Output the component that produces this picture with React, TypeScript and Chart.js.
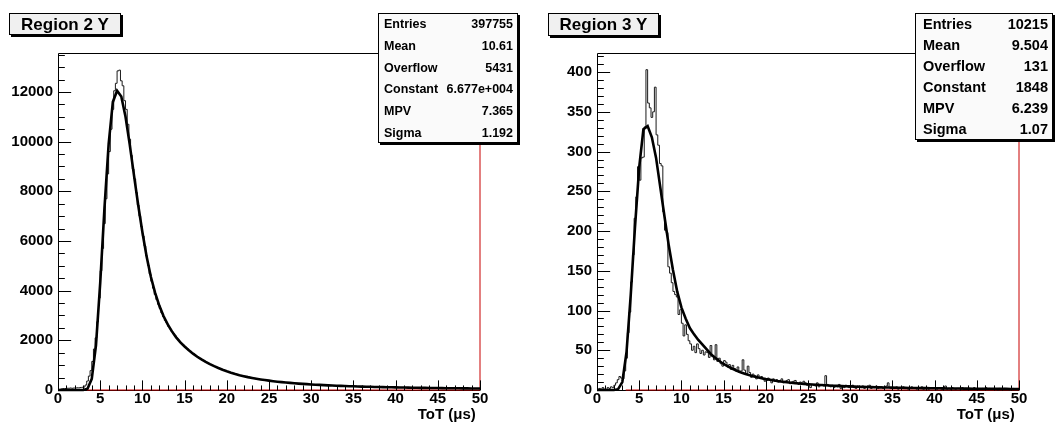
import React, { useEffect, useRef } from "react";
import { Chart, registerables } from "chart.js";

Chart.register(...registerables);

// ---------------- data ----------------
const BIN_MIN = 0;
const BIN_WIDTH = 0.2;
const X_MIN = 0;
const X_MAX = 50;
const FIT_STEP = 0.5;
const X_TICK_STEP = 5;
const X_MINOR_STEP = 1;
const X_TITLE = "ToT (μs) ";

// Region 2 Y : histogram bin contents (250 bins of 0.2 µs)
const region2Counts = [
  10, 30, 50, 60, 60, 70, 70, 80, 70, 80, 80, 90, 90, 100, 110, 120, 200, 360, 560, 780, 1150, 1650, 2100, 2750, 3700,
  4800, 5700, 6700, 7700, 8700, 9600, 10500, 11300, 12050, 12350, 12850, 12880, 12450, 12250, 11650, 11300, 10700, 10100, 9450, 8900, 8500, 7950, 7450, 7000, 6580,
  6200, 5800, 5400, 5020, 4680, 4380, 4100, 3850, 3640, 3450, 3280, 3100, 2950, 2800, 2700, 2560, 2460, 2360, 2270, 2180, 2090, 2010, 1930, 1850, 1800,
  1730, 1670, 1600, 1560, 1490, 1450, 1390, 1350, 1290, 1260, 1210, 1180, 1130, 1100, 1060, 1030, 990, 965, 930, 905, 870, 850, 815, 795, 765,
  745, 715, 700, 670, 655, 630, 618, 595, 583, 562, 550, 530, 520, 503, 494, 477, 468, 452, 445, 430, 423, 408, 402, 389, 384,
  372, 360, 355, 343, 340, 328, 326, 315, 312, 302, 300, 290, 288, 278, 276, 266, 265, 256, 254, 246, 245, 237, 236, 228, 227,
  225, 215, 216, 208, 209, 200, 202, 194, 195, 188, 189, 182, 181, 175, 177, 170, 171, 164, 166, 159, 161, 154, 156, 150, 151,
  145, 147, 140, 142, 136, 138, 132, 134, 128, 131, 125, 127, 121, 124, 118, 120, 115, 118, 112, 114, 109, 111, 106, 109, 103,
  106, 101, 104, 99, 101, 96, 99, 94, 96, 91, 93, 89, 91, 87, 88, 85, 86, 83, 84, 81, 82, 79, 80, 77, 78,
  75, 76, 73, 75, 71, 73, 70, 71, 68, 70, 67, 68, 65, 67, 64, 65, 62, 64, 61, 62, 60, 61, 59, 60, 58,
];

// Region 2 Y : Landau fit curve sampled every 0.5 µs from 0 to 50
const region2Fit = [
  0, 0, 0, 0, 0, 0, 2, 50, 450, 1800,
  4300, 7300, 9900, 11600, 12050, 11820, 11000, 9880, 8650, 7450,
  6350, 5380, 4560, 3920, 3400, 2980, 2640, 2360, 2120, 1920,
  1750, 1600, 1463, 1340, 1230, 1130, 1040, 960, 885, 815,
  752, 695, 643, 597, 556, 518, 485, 454, 426, 400,
  377, 355, 335, 317, 301, 286, 271, 258, 246, 235,
  224, 214, 205, 196, 188, 180, 173, 166, 160, 154,
  148, 142, 137, 132, 128, 123, 119, 115, 112, 108,
  105, 102, 99, 96, 92, 90, 87, 85, 82, 80,
  78, 75, 73, 71, 70, 68, 66, 64, 63, 61,
  60,
];

const region2Stats = [
  ["Entries", "397755"],
  ["Mean", "10.61"],
  ["Overflow", "5431"],
  ["Constant", "6.677e+004"],
  ["MPV", "7.365"],
  ["Sigma", "1.192"],
];
const region2YMax = 13570;
const region2YStep = 2000;
const region2YMinor = 500;
const region2RedX = [3.4, 50, 50];
const region2RedY = [0, 0, 13570];

// Region 3 Y : histogram bin contents (250 bins of 0.2 µs)
const region3Counts = [
  0, 2, 1, 3, 1, 0, 3, 2, 4, 3, 6, 9, 13, 17, 15, 14, 24, 40, 72, 98, 136, 170, 216, 243, 281,
  264, 292, 293, 331, 403, 361, 355, 343, 350, 381, 321, 308, 285, 282, 224, 201, 198, 155, 147, 135, 124, 120, 117, 95, 101,
  84, 68, 82, 70, 62, 58, 50, 55, 47, 58, 52, 46, 50, 44, 48, 47, 41, 56, 42, 38, 57, 36, 40, 33, 30,
  37, 35, 29, 32, 26, 31, 27, 24, 29, 22, 24, 38, 25, 20, 30, 22, 16, 20, 18, 14, 19, 15, 17, 14, 11,
  12, 15, 13, 9, 14, 11, 13, 10, 12, 14, 9, 11, 12, 13, 8, 10, 11, 12, 9, 7, 10, 8, 11, 9, 6,
  8, 3, 7, 6, 5, 9, 4, 6, 7, 5, 18, 7, 5, 4, 6, 3, 5, 4, 7, 2, 5, 3, 6, 4, 3,
  4, 6, 3, 2, 5, 4, 3, 5, 2, 4, 3, 6, 2, 4, 3, 5, 2, 3, 4, 2, 3, 5, 9, 3, 2,
  3, 2, 4, 1, 3, 2, 4, 2, 3, 1, 2, 4, 3, 2, 1, 3, 2, 4, 1, 2, 3, 1, 2, 3, 2,
  2, 1, 3, 2, 1, 2, 5, 1, 2, 1, 3, 2, 1, 2, 2, 1, 3, 1, 2, 1, 2, 1, 2, 3, 1,
  2, 1, 1, 2, 1, 3, 1, 2, 1, 1, 2, 1, 0, 2, 1, 1, 2, 1, 1, 0, 1, 2, 1, 1, 1,
];

// Region 3 Y : Landau fit curve sampled every 0.5 µs from 0 to 50
const region3Fit = [
  0, 0, 0, 0, 0, 1, 10, 48, 120, 205,
  280, 328, 332, 318, 292, 255, 218, 182, 151, 124,
  104, 90, 78, 70, 63, 57, 51, 45, 40.5, 36.4,
  32.7, 29.8, 27, 24.6, 22.4, 20.4, 18.9, 17.3, 16, 14.8,
  13.7, 12.8, 11.9, 11.1, 10.4, 9.8, 9.2, 8.7, 8.2, 7.7,
  7.3, 6.9, 6.6, 6.3, 6.0, 5.7, 5.4, 5.15, 4.9, 4.7,
  4.5, 4.3, 4.15, 3.95, 3.8, 3.65, 3.5, 3.35, 3.2, 3.1,
  3.0, 2.9, 2.8, 2.7, 2.6, 2.5, 2.45, 2.38, 2.3, 2.25,
  2.2, 2.12, 2.05, 1.98, 1.9, 1.85, 1.8, 1.75, 1.7, 1.66,
  1.62, 1.58, 1.55, 1.51, 1.48, 1.45, 1.4, 1.36, 1.32, 1.29,
  1.25,
];

const region3Stats = [
  ["Entries", "10215"],
  ["Mean", "9.504"],
  ["Overflow", "131"],
  ["Constant", "1848"],
  ["MPV", "6.239"],
  ["Sigma", "1.07"],
];
const region3YMax = 424;
const region3YStep = 50;
const region3YMinor = 10;
const region3RedX = [3.4, 50, 50];
const region3RedY = [0, 0, 424];

// ---------------- drawing ----------------
const FONT = '"Liberation Sans", Arial, Helvetica, sans-serif';
const CANVAS_W = 522;
const CANVAS_H = 425;

type PanelCfg = {
  title: string;
  counts: number[];
  fit: number[];
  stats: string[][];
  yMax: number;
  yStep: number;
  yMinor: number;
  redX: number[];
  redY: number[];
  titleBox: [number, number, number, number];
  titleFont: number;
  statsBox: [number, number, number, number];
  statsFont: number;
  statsInsetL: number;
  statsInsetR: number;
};

function drawPave(ctx: CanvasRenderingContext2D, x1: number, y1: number, x2: number, y2: number, fill: string) {
  ctx.fillStyle = "#000";
  ctx.fillRect(x1 + 2, y1 + 2, x2 - x1, y2 - y1);
  ctx.fillStyle = fill;
  ctx.fillRect(x1, y1, x2 - x1, y2 - y1);
  ctx.strokeStyle = "#000";
  ctx.lineWidth = 1;
  ctx.strokeRect(x1 + 0.5, y1 + 0.5, x2 - x1 - 1, y2 - y1 - 1);
}

function makeDecor(cfg: PanelCfg) {
  return {
    id: "rootDecor",
    beforeDatasetsDraw(chart: any) {
      const { ctx, chartArea: a } = chart;
      ctx.save();
      ctx.strokeStyle = "#000";
      ctx.lineWidth = 1;
      const B = Math.round(a.bottom) + 0.5;
      ctx.beginPath();
      ctx.moveTo(a.left, B);
      ctx.lineTo(a.right, B);
      ctx.stroke();
      ctx.restore();
    },
    afterDatasetsDraw(chart: any) {
      const { ctx, chartArea: a, scales } = chart;
      const xs = scales.x;
      const ys = scales.y;
      const L = Math.round(a.left) + 0.5;
      const T = Math.round(a.top) + 0.5;
      const B = Math.round(a.bottom) + 0.5;
      const R = Math.round(a.right) + 0.5;
      ctx.save();
      ctx.strokeStyle = "#000";
      ctx.lineWidth = 1;
      ctx.beginPath();
      ctx.moveTo(L, B);
      ctx.lineTo(L, T);
      ctx.lineTo(R, T);
      const xLen = 0.03 * (a.bottom - a.top);
      const yLen = 0.03 * (a.right - a.left);
      const xMaj = xs.ticks.map((t: any) => t.value);
      for (let i = 0; X_MIN + i * X_MINOR_STEP <= X_MAX + 1e-9; i++) {
        const v = X_MIN + i * X_MINOR_STEP;
        const isMaj = xMaj.some((m: number) => Math.abs(m - v) < 1e-6);
        const px = Math.round(xs.getPixelForValue(v)) + 0.5;
        ctx.moveTo(px, B);
        ctx.lineTo(px, B - (isMaj ? xLen : xLen / 2));
      }
      const yMaj = ys.ticks.map((t: any) => t.value);
      for (let i = 0; i * cfg.yMinor <= cfg.yMax + 1e-9; i++) {
        const v = i * cfg.yMinor;
        const isMaj = yMaj.some((m: number) => Math.abs(m - v) < 1e-6);
        const py = Math.round(ys.getPixelForValue(v)) + 0.5;
        ctx.moveTo(L, py);
        ctx.lineTo(L + (isMaj ? yLen : yLen / 2), py);
      }
      ctx.stroke();
      ctx.restore();
    },
    afterDraw(chart: any) {
      const ctx: CanvasRenderingContext2D = chart.ctx;
      ctx.save();
      const [tx1, ty1, tx2, ty2] = cfg.titleBox;
      drawPave(ctx, tx1, ty1, tx2, ty2, "#f0f0f0");
      ctx.fillStyle = "#000";
      ctx.font = `bold ${cfg.titleFont}px ${FONT}`;
      ctx.textAlign = "center";
      ctx.textBaseline = "middle";
      ctx.fillText(cfg.title, (tx1 + tx2) / 2, (ty1 + ty2) / 2 + 1);
      const [sx1, sy1, sx2, sy2] = cfg.statsBox;
      drawPave(ctx, sx1, sy1, sx2, sy2, "#fafafa");
      ctx.fillStyle = "#000";
      ctx.font = `bold ${cfg.statsFont}px ${FONT}`;
      const rowH = (sy2 - sy1) / cfg.stats.length;
      cfg.stats.forEach((row, i) => {
        const y = sy1 + (i + 0.5) * rowH + 1;
        ctx.textAlign = "left";
        ctx.fillText(row[0], sx1 + cfg.statsInsetL, y);
        ctx.textAlign = "right";
        ctx.fillText(row[1], sx2 - cfg.statsInsetR, y);
      });
      ctx.restore();
    },
  };
}

function stepTicks(max: number, step: number) {
  const out: { value: number }[] = [];
  for (let i = 0; i * step <= max + 1e-9; i++) out.push({ value: i * step });
  return out;
}

function Panel({ cfg, left }: { cfg: PanelCfg; left: number }) {
  const ref = useRef<HTMLCanvasElement | null>(null);
  useEffect(() => {
    if (!ref.current) return;
    const histPoints = cfg.counts.map((c, i) => ({ x: BIN_MIN + i * BIN_WIDTH, y: c }));
    histPoints.push({ x: BIN_MIN + cfg.counts.length * BIN_WIDTH, y: cfg.counts[cfg.counts.length - 1] });
    const fitPoints = cfg.fit.map((v, i) => ({ x: X_MIN + i * FIT_STEP, y: v }));
    const redPoints = cfg.redX.map((x, i) => ({ x, y: cfg.redY[i] }));
    const tickFont = { family: FONT, size: 15, weight: "bold" as const };
    const chart = new Chart(ref.current, {
      type: "line",
      data: {
        datasets: [
          { data: fitPoints, borderColor: "#000", borderWidth: 2.6, pointRadius: 0, tension: 0, fill: false, order: 1, clip: 4 },
          { data: histPoints, borderColor: "#1a1a1a", borderWidth: 1, pointRadius: 0, stepped: "before", fill: false, order: 2, clip: 4 },
          { data: redPoints, borderColor: "#c80000", borderWidth: 1, pointRadius: 0, tension: 0, fill: false, order: 3, clip: 4 },
        ] as any,
      },
      options: {
        animation: false,
        responsive: false,
        maintainAspectRatio: false,
        devicePixelRatio: 1,
        events: [],
        parsing: false as any,
        normalized: true,
        layout: { padding: { left: 0, top: 53, right: CANVAS_W - 480, bottom: 0 } },
        plugins: { legend: { display: false }, tooltip: { enabled: false }, title: { display: false } },
        scales: {
          x: {
            type: "linear",
            min: X_MIN,
            max: X_MAX,
            grid: { display: false, drawTicks: false },
            border: { display: false },
            ticks: { color: "#000", font: tickFont, padding: 0, maxRotation: 0, autoSkip: false, callback: (v: any) => String(v) },
            afterBuildTicks: (s: any) => {
              s.ticks = stepTicks(X_MAX, X_TICK_STEP);
            },
            title: { display: true, text: X_TITLE, align: "end", color: "#000", font: tickFont, padding: { top: 0, bottom: 1 } },
            afterFit: (s: any) => {
              s.height = CANVAS_H - 390;
              s.paddingLeft = 0;
              s.paddingRight = 0;
            },
          },
          y: {
            type: "linear",
            min: 0,
            max: cfg.yMax,
            grid: { display: false, drawTicks: false },
            border: { display: false },
            ticks: { color: "#000", font: tickFont, padding: 5, autoSkip: false, callback: (v: any) => String(v) },
            afterBuildTicks: (s: any) => {
              s.ticks = stepTicks(cfg.yMax, cfg.yStep);
            },
            afterFit: (s: any) => {
              s.width = 58;
              s.paddingTop = 0;
              s.paddingBottom = 0;
            },
          },
        },
      } as any,
      plugins: [makeDecor(cfg) as any],
    });
    return () => chart.destroy();
  }, [cfg]);
  return (
    <canvas
      ref={ref}
      width={CANVAS_W}
      height={CANVAS_H}
      style={{ position: "absolute", left, top: 0, width: CANVAS_W, height: CANVAS_H }}
    />
  );
}

const leftCfg: PanelCfg = {
  title: "Region 2 Y",
  counts: region2Counts,
  fit: region2Fit,
  stats: region2Stats,
  yMax: region2YMax,
  yStep: region2YStep,
  yMinor: region2YMinor,
  redX: region2RedX,
  redY: region2RedY,
  titleBox: [9, 13, 121, 35],
  titleFont: 17,
  statsBox: [378, 13, 518, 143],
  statsFont: 12.5,
  statsInsetL: 6,
  statsInsetR: 5,
};

const rightCfg: PanelCfg = {
  title: "Region 3 Y",
  counts: region3Counts,
  fit: region3Fit,
  stats: region3Stats,
  yMax: region3YMax,
  yStep: region3YStep,
  yMinor: region3YMinor,
  redX: region3RedX,
  redY: region3RedY,
  titleBox: [9, 13, 120, 36],
  titleFont: 17,
  statsBox: [376, 13, 514, 140],
  statsFont: 14.5,
  statsInsetL: 8,
  statsInsetR: 5,
};

export default function App() {
  return (
    <div style={{ position: "fixed", left: 0, top: 0, width: 1061, height: 425, background: "#fff", overflow: "hidden" }}>
      <Panel cfg={leftCfg} left={0} />
      <Panel cfg={rightCfg} left={539} />
    </div>
  );
}
